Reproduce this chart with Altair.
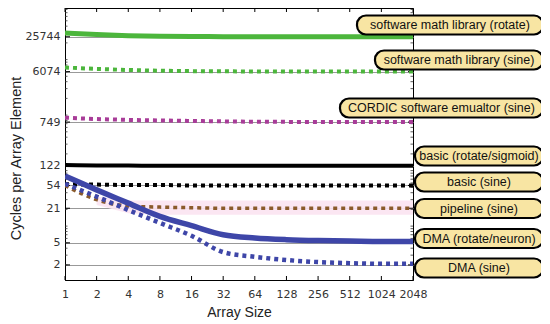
import altair as alt
import pandas as pd

sizes = [1, 2, 4, 8, 16, 32, 64, 128, 256, 512, 1024, 2048]

series_names = [
    "software math library (rotate)",
    "software math library (sine)",
    "CORDIC software emualtor (sine)",
    "basic (rotate/sigmoid)",
    "basic (sine)",
    "pipeline (sine)",
    "DMA (rotate/neuron)",
    "DMA (sine)",
]

sml_rotate = [30000, 28200, 27000, 26300, 26000, 25900, 25850, 25800, 25780, 25760, 25750, 25744]
sml_sine = [7200, 6800, 6500, 6300, 6200, 6150, 6110, 6090, 6080, 6078, 6075, 6074]
cordic_sine = [900, 850, 820, 800, 785, 770, 760, 755, 752, 750, 749, 749]
basic_rotate = [126, 124, 123, 122, 122, 122, 122, 122, 122, 122, 122, 122]
basic_sine = [57, 56, 55, 55, 54, 54, 54, 54, 54, 54, 54, 54]
pipeline_sine = [54, 30, 23, 22, 21.5, 21, 21, 21, 21, 21, 21, 21]
dma_rotate = [80, 45, 26, 15, 10.2, 7, 6.1, 5.7, 5.5, 5.4, 5.3, 5.3]
dma_sine = [58, 34, 19.5, 11.4, 6.7, 3.4, 2.8, 2.45, 2.25, 2.15, 2.1, 2.1]

band_sizes = [2, 4, 8, 16, 32, 64, 128, 256, 512, 1024, 2048]
band_low = [24, 17, 16, 16, 16, 16, 16, 16, 16, 16, 16]
band_high = [34, 29, 29, 29, 29, 29, 29, 29, 29, 29, 29]

y_ticks = [2, 5, 21, 54, 122, 749, 6074, 25744]
y_minor = [m * 10 ** k for k in range(0, 5) for m in range(2, 10)] + [10, 100, 1000, 10000]

all_values = [sml_rotate, sml_sine, cordic_sine, basic_rotate, basic_sine,
              pipeline_sine, dma_rotate, dma_sine]
colors = ["#4cb63c", "#4cb63c", "#a83c98", "#000000", "#000000",
          "#8a5a2b", "#3e46a8", "#3e46a8"]
dashed = [False, True, True, False, True, True, False, True]
widths = [5, 4, 4, 4, 4, 3.5, 5.5, 4.5]

rows = []
for name, vals in zip(series_names, all_values):
    for s, v in zip(sizes, vals):
        rows.append({"series": name, "size": s, "cycles": v})
df = pd.DataFrame(rows)

band_df = pd.DataFrame({"size": band_sizes, "low": band_low, "high": band_high})

W, H = 348, 272
xscale = alt.Scale(type="log", base=2, domain=[1, 2048], nice=False)
yscale = alt.Scale(type="log", domain=[1.07, 85000], nice=False)

xaxis = alt.Axis(values=sizes, format="d", title="Array Size", grid=False,
                 labelFontSize=11, labelColor="#333", labelFont="DejaVu Sans",
                 labelOverlap=False, labelFlush=False,
                 titleFontSize=14, titleFont="Liberation Sans", titleFontWeight="normal",
                 titleColor="#222", domainColor="#000", ticks=False,
                 labelPadding=8, titlePadding=6)
yaxis = alt.Axis(values=y_ticks, format="d", title="Cycles per Array Element", grid=True,
                 gridColor="#999", gridWidth=1, labelOverlap=False,
                 labelFontSize=11, labelColor="#333", labelFont="DejaVu Sans",
                 titleFontSize=14.5, titleFont="Liberation Sans", titleFontWeight="normal",
                 titleColor="#222", domainColor="#000", ticks=False,
                 labelPadding=5, titleX=-49, titleY=150, titleAlign="center",
                 titleBaseline="middle")

band = alt.Chart(band_df).mark_area(color="#fbe3f1", opacity=0.9).encode(
    x=alt.X("size:Q", scale=xscale, axis=xaxis),
    y=alt.Y("low:Q", scale=yscale, axis=yaxis),
    y2="high:Q",
)

# inward tick marks on the frame
xt_df = pd.DataFrame({"size": sizes})
yt_df = pd.DataFrame({"v": y_ticks})
ym_df = pd.DataFrame({"v": y_minor})
tick_style = dict(color="#000", strokeWidth=1)
xticks_bottom = alt.Chart(xt_df).mark_rule(**tick_style).encode(
    x=alt.X("size:Q", scale=xscale), y=alt.value(H - 4), y2=alt.value(H))
xticks_top = alt.Chart(xt_df).mark_rule(**tick_style).encode(
    x=alt.X("size:Q", scale=xscale), y=alt.value(0), y2=alt.value(4))
yticks_left = alt.Chart(yt_df).mark_rule(**tick_style).encode(
    y=alt.Y("v:Q", scale=yscale), x=alt.value(0), x2=alt.value(5))
yticks_right = alt.Chart(yt_df).mark_rule(**tick_style).encode(
    y=alt.Y("v:Q", scale=yscale), x=alt.value(W - 5), x2=alt.value(W))
yminor_left = alt.Chart(ym_df).mark_rule(color="#333", strokeWidth=0.8, clip=True).encode(
    y=alt.Y("v:Q", scale=yscale), x=alt.value(0), x2=alt.value(2.5))
yminor_right = alt.Chart(ym_df).mark_rule(color="#333", strokeWidth=0.8, clip=True).encode(
    y=alt.Y("v:Q", scale=yscale), x=alt.value(W - 2.5), x2=alt.value(W))

layers = [band, xticks_bottom, xticks_top, yticks_left, yticks_right,
          yminor_left, yminor_right]
for name, c, d, w in zip(series_names, colors, dashed, widths):
    sub = df[df.series == name]
    kw = dict(color=c, strokeWidth=w, clip=True, interpolate="monotone")
    if d:
        kw["strokeDash"] = [4, 4]
        kw["strokeCap"] = "butt"
    layers.append(
        alt.Chart(sub).mark_line(**kw).encode(
            x=alt.X("size:Q", scale=xscale),
            y=alt.Y("cycles:Q", scale=yscale),
        )
    )

# label boxes (layout in pixels relative to plot origin)
box_left = [292, 310, 275, 350, 350, 350, 350, 350]
box_right = [478] * 8
box_mid = [17, 52, 100, 148, 174, 200.5, 230.5, 260]
lab_df = pd.DataFrame({
    "label": series_names,
    "bx": box_left,
    "bx2": box_right,
    "by": [m - 9.5 for m in box_mid],
    "by2": [m + 9.5 for m in box_mid],
    "tx": [(a + b) / 2 for a, b in zip(box_left, box_right)],
    "ty": box_mid,
})
boxes = alt.Chart(lab_df).mark_rect(
    fill="#f8e5a3", stroke="#000", strokeWidth=2.2, cornerRadius=9
).encode(
    x=alt.X("bx:Q", scale=None), x2="bx2:Q",
    y=alt.Y("by:Q", scale=None), y2="by2:Q",
)
texts = alt.Chart(lab_df).mark_text(
    font="Liberation Sans", fontSize=12.5, color="#111", baseline="middle", align="center"
).encode(
    x=alt.X("tx:Q", scale=None), y=alt.Y("ty:Q", scale=None), text="label:N"
)
layers += [boxes, texts]

chart = alt.layer(*layers).properties(
    width=W, height=H,
    autosize=alt.AutoSizeParams(type="none"),
    padding={"left": 57, "top": 0, "right": 128, "bottom": 44},
).configure_view(stroke="#000", strokeWidth=1)

chart.save("out.html", embed_options={"renderer": "svg", "actions": False})
